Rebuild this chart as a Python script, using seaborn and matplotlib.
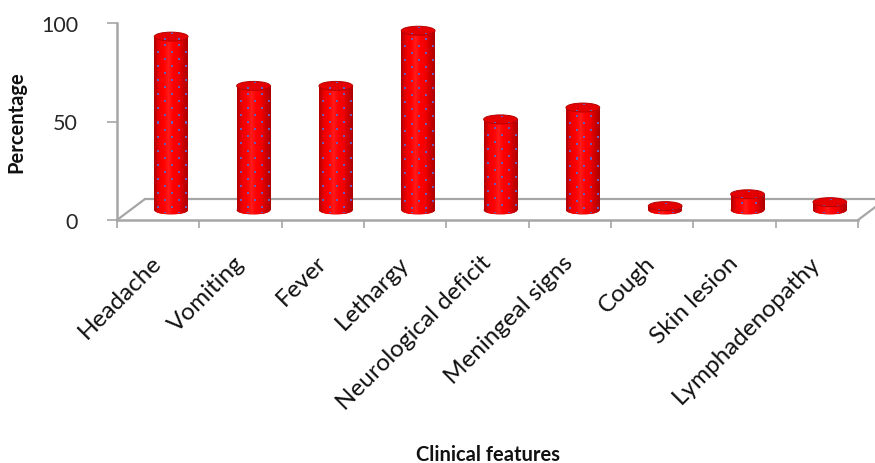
import numpy as np
import pandas as pd
import matplotlib
matplotlib.use("Agg")
import matplotlib.pyplot as plt
import matplotlib.transforms as mtransforms
from matplotlib.patches import Ellipse
from matplotlib.colors import LinearSegmentedColormap, to_rgba
import seaborn as sns

# Clinical features and the share of patients presenting with each
categories = ["Headache", "Vomiting", "Fever", "Lethargy", "Neurological deficit",
              "Meningeal signs", "Cough", "Skin lesion", "Lymphadenopathy"]
percentages = [88, 63, 63, 91, 46, 52, 2, 8, 4]
y_ticks = [0, 50, 100]

sns.set_theme(style="white")
plt.rcParams["font.family"] = ["Lato", "DejaVu Sans"]

DPI = 100
W_PX, H_PX = 875, 464
fig = plt.figure(figsize=(W_PX / DPI, H_PX / DPI), dpi=DPI)

# front plane of the plot box, in pixels
X0, X1, Y0, Y1 = 117, 858, 221, 24
ax = fig.add_axes([X0 / W_PX, 1 - Y0 / H_PX, (X1 - X0) / W_PX, (Y0 - Y1) / H_PX])

df = pd.DataFrame({"feature": categories, "pct": percentages})
BAR_W = 0.41
sns.barplot(data=df, x="feature", y="pct", ax=ax, color="#ff0000",
            saturation=1, width=BAR_W, zorder=3, linewidth=0)
ax.set_xlim(-0.5, len(categories) - 0.5)
ax.set_ylim(0, 100)

px_per_x = (X1 - X0) / len(categories)
px_per_y = (Y0 - Y1) / 100.0

# depth offsets (pixels) for the floor's back edge and the cylinders' mid plane
FLOOR_DX, FLOOR_DY = 28, 21
BAR_DX, BAR_DY = 13, 10
bar_trans = ax.transData + mtransforms.ScaledTranslation(BAR_DX / DPI, BAR_DY / DPI, fig.dpi_scale_trans)
back_trans = ax.transData + mtransforms.ScaledTranslation(FLOOR_DX / DPI, FLOOR_DY / DPI, fig.dpi_scale_trans)

GRAY = "#a6a6a6"
# floor plate
ax.plot([-0.5, len(categories) - 0.5], [0, 0], transform=back_trans, color=GRAY,
        lw=1.6, clip_on=False, zorder=1)
ddx, ddy = FLOOR_DX / px_per_x, FLOOR_DY / px_per_y
for xe in (-0.5, len(categories) - 0.5):
    ax.plot([xe, xe + ddx], [0, ddy], color=GRAY, lw=1.6, clip_on=False, zorder=1)

shade = LinearSegmentedColormap.from_list(
    "cyl", ["#b40000", "#ee0000", "#ff0000", "#ff1a1a", "#ff0000", "#f40000", "#d00000", "#ae0000"])
DOT = np.array(to_rgba("#6a5cb8"))


def dotted_texture(n_rows, n_cols, base_rgba):
    """Pixel texture: base colours per column plus a staggered grid of small dots."""
    tex = np.repeat(base_rgba[None, :, :], n_rows, axis=0).copy()
    for r in range(1, n_rows - 1, 7):
        shift = 7 if (r // 7) % 2 else 0
        for c in range(3 + shift, n_cols - 2, 14):
            tex[r:r + 2, c:c + 2] = DOT
    return tex


ell_h = 9 / px_per_y
w_px = int(round(BAR_W * px_per_x))
body_cols = shade(np.linspace(0, 1, w_px))
cap_cols = np.repeat(np.array(to_rgba("#e40000"))[None, :], w_px, axis=0)

for patch in list(ax.patches):
    x0, w, h = patch.get_x(), patch.get_width(), patch.get_height()
    xc = x0 + w / 2
    patch.set_transform(bar_trans)
    patch.set_clip_on(False)
    patch.set_facecolor("none")

    # rounded base
    base = Ellipse((xc, 0), w, ell_h, transform=bar_trans, facecolor="#e00000",
                   edgecolor="none", zorder=2.9, clip_on=False)
    ax.add_patch(base)
    tex = dotted_texture(int(round(ell_h * px_per_y)) + 2, w_px, body_cols)
    im = ax.imshow(tex, extent=(x0, x0 + w, -ell_h / 2, ell_h / 2), transform=bar_trans,
                   aspect="auto", interpolation="nearest", zorder=2.95)
    im.set_clip_path(base)

    # shaded, dotted body
    h_px = max(1, int(round(h * px_per_y)))
    tex = dotted_texture(h_px, w_px, body_cols)
    im = ax.imshow(tex, extent=(x0, x0 + w, 0, h), transform=bar_trans, aspect="auto",
                   interpolation="nearest", zorder=3.1)
    im.set_clip_path(patch)

    # top cap
    cap = Ellipse((xc, h), w, ell_h, transform=bar_trans, facecolor="#e40000",
                  edgecolor="#b80000", lw=0.7, zorder=3.4, clip_on=False)
    ax.add_patch(cap)
    tex = dotted_texture(int(round(ell_h * px_per_y)) + 2, w_px, cap_cols)
    im = ax.imshow(tex, extent=(x0, x0 + w, h - ell_h / 2, h + ell_h / 2), transform=bar_trans,
                   aspect="auto", interpolation="nearest", zorder=3.3)
    im.set_clip_path(cap)
    cap.set_facecolor("none")

ax.set_xlim(-0.5, len(categories) - 0.5)
ax.set_ylim(0, 100)

# axes styling
for side in ("top", "right"):
    ax.spines[side].set_visible(False)
for side in ("left", "bottom"):
    ax.spines[side].set_color(GRAY)
    ax.spines[side].set_linewidth(1.8)
    ax.spines[side].set_zorder(5)

ax.set_yticks(y_ticks)
ax.set_yticklabels([str(t) for t in y_ticks])
ax.tick_params(axis="y", length=7, width=1.2, color=GRAY, pad=21,
               labelsize=15.5, labelcolor="#262626", left=True)
ax.set_xticks(np.arange(-0.5, len(categories), 1.0), minor=True)
ax.tick_params(axis="x", which="minor", length=6, width=1.2, color=GRAY, bottom=True)
ax.tick_params(axis="x", which="major", length=0, pad=28, labelsize=17.5, labelcolor="#111111")
for lab in ax.get_xticklabels():
    lab.set_rotation(45)
    lab.set_ha("right")
    lab.set_va("center")
    lab.set_rotation_mode("anchor")

ax.set_ylabel("Percentage", fontsize=14.5, fontweight="bold", color="#111111")
ax.set_xlabel("Clinical features", fontsize=14.5, fontweight="bold", color="#111111")
ax.yaxis.set_label_coords((26 - X0) / (X1 - X0), 0.5)
ax.xaxis.set_label_coords((488 - X0) / (X1 - X0), (Y0 - 445) / (Y0 - Y1))
ax.grid(False)

fig.savefig("out.png", dpi=DPI)
